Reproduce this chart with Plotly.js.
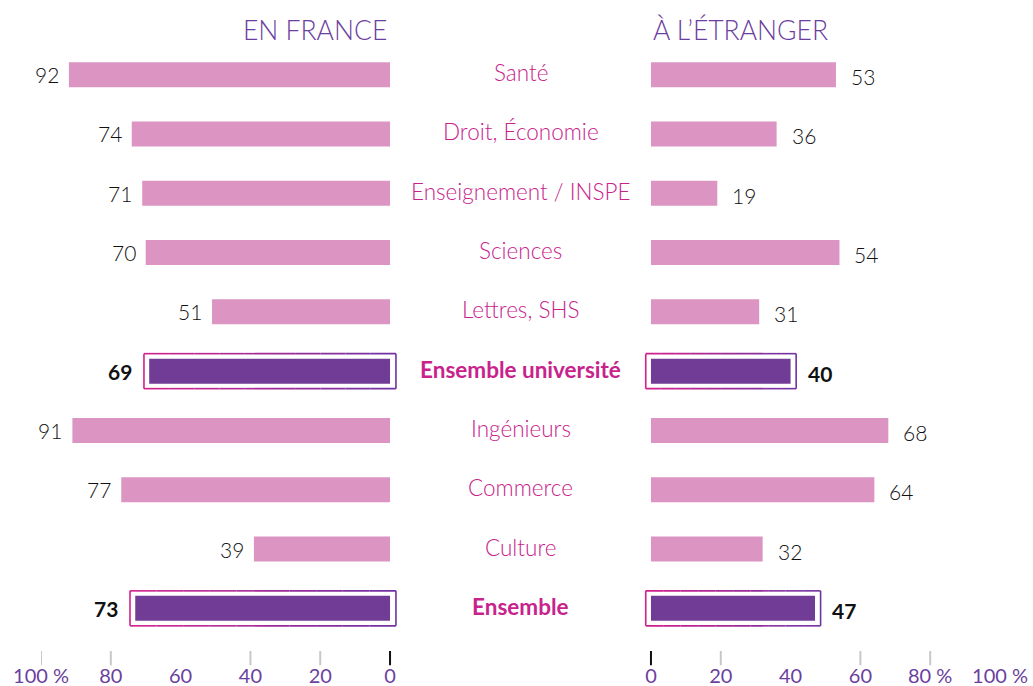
<!DOCTYPE html>
<html>
<head>
<meta charset="utf-8">
<script src="https://cdn.plot.ly/plotly-3.0.1.min.js"></script>
<style>html,body{margin:0;padding:0;background:#fff;}#chart{width:1033px;height:686px;}</style>
</head>
<body>
<div id="chart"></div>
<script>
const categories = ['Santé','Droit, Économie','Enseignement / INSPE','Sciences','Lettres, SHS','Ensemble université','Ingénieurs','Commerce','Culture','Ensemble'];
const france = [92,74,71,70,51,69,91,77,39,73];
const etranger = [53,36,19,54,31,40,68,64,32,47];
const highlighted = ['Ensemble université','Ensemble'];
const leftTickVals = [100,80,60,40,20,0];
const leftTickText = ['100 %','80','60','40','20','0'];
const rightTickVals = [0,20,40,60,80,100];
const rightTickText = ['0','20','40','60','80 %','100 %'];
const leftMarks = [100,80,40,20,0];
const rightMarks = [0,20,60,80];
const titleLeft = 'EN FRANCE';
const titleRight = 'À L\u2019ÉTRANGER';

const W = 1033;
const FONT = 'Lato, "Open Sans", sans-serif';
const PINK = '#dc94c2', PURPLE = '#703c96', MAGENTA = '#c8238c', AXISPURPLE = '#6b3fa0';
const isH = categories.map(c => highlighted.includes(c));
const colors = isH.map(h => h ? PURPLE : PINK);

const traces = [
  {type:'bar', orientation:'h', y:categories, x:france, xaxis:'x', yaxis:'y',
   marker:{color:colors}, hoverinfo:'skip'},
  {type:'bar', orientation:'h', y:categories, x:etranger, xaxis:'x2', yaxis:'y2',
   marker:{color:colors}, hoverinfo:'skip'}
];

function hex(c){return [parseInt(c.slice(1,3),16),parseInt(c.slice(3,5),16),parseInt(c.slice(5,7),16)];}
function mix(a,b,t){const A=hex(a),B=hex(b);return 'rgb('+A.map((v,i)=>Math.round(v+(B[i]-v)*t)).join(',')+')';}
const G0 = '#d41f8c', G1 = '#6f33a3';

const shapes = [];
function gradBox(xr, yr, xa, xb, y0, y1){
  const n = 10, lw = 1.6;
  for(let k=0;k<n;k++){
    const t0=k/n, t1=(k+1)/n, col=mix(G0,G1,(k+0.5)/n);
    const xs=xa+(xb-xa)*t0, xe=xa+(xb-xa)*t1;
    shapes.push({type:'line',xref:xr,yref:yr,x0:xs,x1:xe,y0:y0,y1:y0,line:{color:col,width:lw}});
    shapes.push({type:'line',xref:xr,yref:yr,x0:xs,x1:xe,y0:y1,y1:y1,line:{color:col,width:lw}});
  }
  shapes.push({type:'line',xref:xr,yref:yr,x0:xa,x1:xa,y0:y0,y1:y1,line:{color:G0,width:lw}});
  shapes.push({type:'line',xref:xr,yref:yr,x0:xb,x1:xb,y0:y0,y1:y1,line:{color:G1,width:lw}});
}
categories.forEach((c,i)=>{
  if(!isH[i]) return;
  gradBox('x','y', france[i]+1.5, -1.7, i-0.295, i+0.295);
  gradBox('x2','y2', -1.5, etranger[i]+1.6, i-0.295, i+0.295);
});
leftMarks.forEach(v=>shapes.push({type:'line',xref:'x',yref:'paper',x0:v,x1:v,y0:-0.022,y1:-0.046,
  line:{color: v===0?'#111':'#c8c8c8', width:2}}));
rightMarks.forEach(v=>shapes.push({type:'line',xref:'x2',yref:'paper',x0:v,x1:v,y0:-0.022,y1:-0.046,
  line:{color: v===0?'#111':'#c8c8c8', width:2}}));

const annotations = [];
categories.forEach((c,i)=>{
  const h = isH[i];
  annotations.push({xref:'x',yref:'y',x:france[i],y:c,xanchor:'right',yanchor:'middle',
    xshift: h?-15:-8, yshift:0, showarrow:false,
    text: h?'<b>'+france[i]+'</b>':String(france[i]),
    font:{family:FONT,size:21,weight:h?700:300,color:'#111'}});
  annotations.push({xref:'x2',yref:'y2',x:etranger[i],y:c,xanchor:'left',yanchor:'middle',
    xshift: h?15:13, yshift:-2, showarrow:false,
    text: h?'<b>'+etranger[i]+'</b>':String(etranger[i]),
    font:{family:FONT,size:21,weight:h?700:300,color:'#111'}});
  annotations.push({xref:'paper',yref:'y',x:520.5/W,y:c,xanchor:'center',yanchor:'middle',
    yshift:2, showarrow:false,
    text: h?'<b>'+c+'</b>':c,
    font:{family:FONT,size:22.5,weight:h?700:300,color:MAGENTA}});
});
annotations.push({xref:'paper',yref:'paper',x:389/W,y:1,yanchor:'bottom',xanchor:'right',yshift:-3,
  showarrow:false,text:titleLeft,font:{family:FONT,size:26.5,weight:300,color:AXISPURPLE}});
annotations.push({xref:'paper',yref:'paper',x:651/W,y:1,yanchor:'bottom',xanchor:'left',yshift:-3,
  showarrow:false,text:titleRight,font:{family:FONT,size:26.5,weight:300,color:AXISPURPLE}});

const yax = {type:'category', range:[9.5,-0.5], showticklabels:false, showgrid:false,
  zeroline:false, showline:false, ticks:''};
const xcommon = {showgrid:false, zeroline:false, showline:false, ticks:'', automargin:false,
  tickfont:{family:FONT,size:20,weight:400,color:AXISPURPLE}, ticklabelstandoff:24, fixedrange:true};

const layout = {
  width:W, height:686, margin:{l:0,r:0,t:45,b:48},
  paper_bgcolor:'#fff', plot_bgcolor:'#fff', showlegend:false, bargap:0.578,
  xaxis:Object.assign({}, xcommon, {domain:[41/W, 400.5/W], range:[100,-3],
    tickmode:'array', tickvals:leftTickVals, ticktext:leftTickText, anchor:'y'}),
  xaxis2:Object.assign({}, xcommon, {domain:[640.5/W, 1000/W], range:[-3,100],
    tickmode:'array', tickvals:rightTickVals, ticktext:rightTickText, anchor:'y2'}),
  yaxis:Object.assign({}, yax, {anchor:'x'}),
  yaxis2:Object.assign({}, yax, {anchor:'x2'}),
  shapes:shapes, annotations:annotations
};
Plotly.newPlot('chart', traces, layout, {staticPlot:true, displayModeBar:false});
</script>
</body>
</html>
